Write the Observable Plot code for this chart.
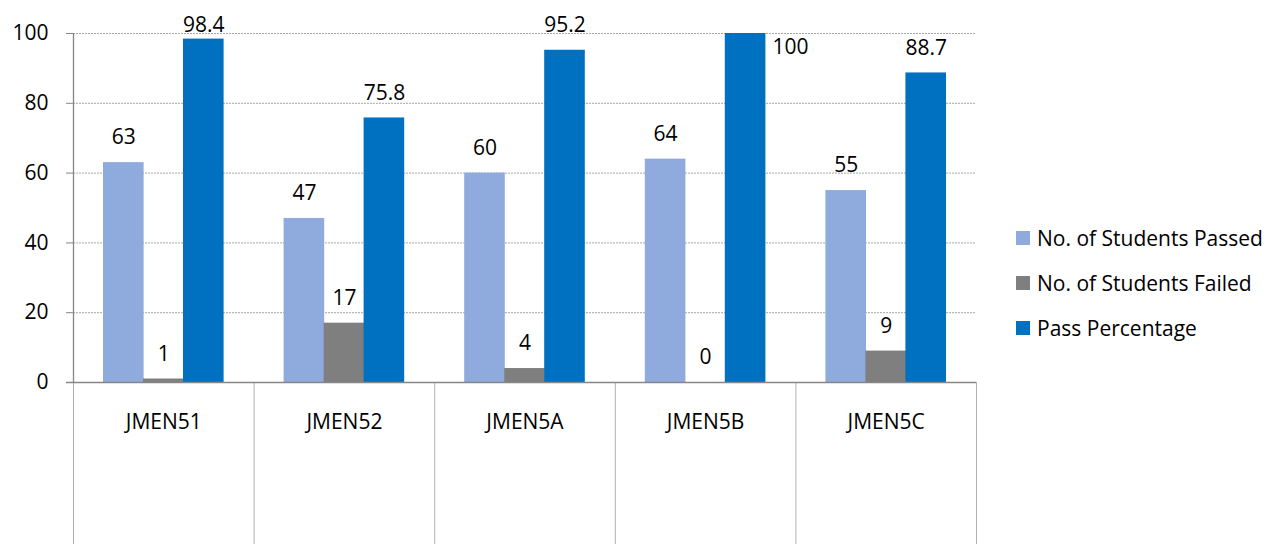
<!DOCTYPE html>
<html><head><meta charset="utf-8">
<script src="https://cdn.jsdelivr.net/npm/d3@7"></script>
<script src="https://cdn.jsdelivr.net/npm/@observablehq/plot@0.6"></script>
<style>
body{margin:0;background:#fff;font-family:"Open Sans",sans-serif;}
#wrap{position:relative;width:1270px;height:544px;overflow:hidden;}
#legend{position:absolute;left:1016px;top:0;}
.row{position:absolute;left:0;height:26px;display:flex;align-items:center;white-space:nowrap;font-size:21px;color:#000;font-family:"Open Sans",sans-serif;}
.sw{width:14px;height:14px;margin-right:7px;flex:none;}
</style></head><body><div id="wrap"><div id="chart"></div><div id="legend"></div></div>
<script>
const categories = ["JMEN51", "JMEN52", "JMEN5A", "JMEN5B", "JMEN5C"];
const seriesNames = ["No. of Students Passed", "No. of Students Failed", "Pass Percentage"];
const passed = [63, 47, 60, 64, 55];
const failed = [1, 17, 4, 0, 9];
const passPct = [98.4, 75.8, 95.2, 100, 88.7];
const yTicks = [0, 20, 40, 60, 80, 100];

const seriesColors = ["#8FAADC", "#7F7F7F", "#0070C0"];
const seriesValues = [passed, failed, passPct];

const rows = categories.flatMap((c, i) => seriesNames.map((s, j) => ({category: c, series: s, value: seriesValues[j][i]})));

// bar placement inside each category band (40px bars, 30px side gaps)
const barInsets = [[30, 110], [70, 70], [110, 30]];
const labelDx = [-40, 0, 40];

const marks = [
  Plot.ruleY(yTicks.filter(t => t > 0), {stroke: "#a6a6a6", strokeDasharray: "2,1"}),
  ...seriesNames.map((s, j) => Plot.barY(rows, {
    filter: d => d.series === s, x: "category", y: "value", fill: "series",
    insetLeft: barInsets[j][0], insetRight: barInsets[j][1]
  })),
  // separators of the category table below the axis
  Plot.ruleX(categories, {x: d => d, dx: -90.3, insetTop: 349, insetBottom: -162, stroke: "#b0b0b0"}),
  Plot.ruleX([categories[categories.length - 1]], {x: d => d, dx: 90.3, insetTop: 349, insetBottom: -162, stroke: "#b0b0b0"}),
  // y axis line
  Plot.ruleX([categories[0]], {x: d => d, dx: -90.3, stroke: "#868686", strokeWidth: 1.3}),
  // baseline
  Plot.ruleY([0], {stroke: "#868686", strokeWidth: 1.5, insetLeft: -7}),
  Plot.axisY({ticks: yTicks, tickSize: 7, tickPadding: 18, stroke: "#868686", label: null}),
  Plot.axisX({tickSize: 0, tickPadding: 32, label: null}),
  // value labels
  ...seriesNames.map((s, j) => Plot.text(rows, {
    filter: d => d.series === s && (j < 2 || d.value < 97),
    x: "category", y: "value", text: d => String(d.value), dx: labelDx[j], dy: -25, fill: "#000"
  })),
  Plot.text(rows, {filter: d => d.series === seriesNames[2] && d.value >= 97 && d.value < 100,
    x: "category", y: "value", text: d => String(d.value), dx: labelDx[2], dy: -14, fill: "#000"}),
  Plot.text(rows, {filter: d => d.series === seriesNames[2] && d.value >= 100,
    x: "category", y: "value", text: d => String(d.value), dx: 67, dy: 14, textAnchor: "start", fill: "#000"})
];

const chart = Plot.plot({
  width: 1270,
  height: 544,
  marginLeft: 73,
  marginRight: 294,
  marginTop: 33,
  marginBottom: 162,
  style: {fontFamily: "'Open Sans', sans-serif", fontSize: "21px", color: "#000", background: "#fff"},
  x: {domain: categories, padding: 0, round: false, axis: null},
  y: {domain: [0, 100], axis: null},
  color: {domain: seriesNames, range: seriesColors},
  marks
});
document.getElementById("chart").appendChild(chart);

const legend = document.getElementById("legend");
const rowCenters = [238, 283, 328];
seriesNames.forEach((s, j) => {
  const r = document.createElement("div");
  r.className = "row";
  r.style.top = (rowCenters[j] - 13) + "px";
  const sw = document.createElement("span");
  sw.className = "sw";
  sw.style.background = chart.scale("color").apply(s);
  const t = document.createElement("span");
  t.textContent = s;
  r.appendChild(sw); r.appendChild(t);
  legend.appendChild(r);
});
</script>
</body></html>
